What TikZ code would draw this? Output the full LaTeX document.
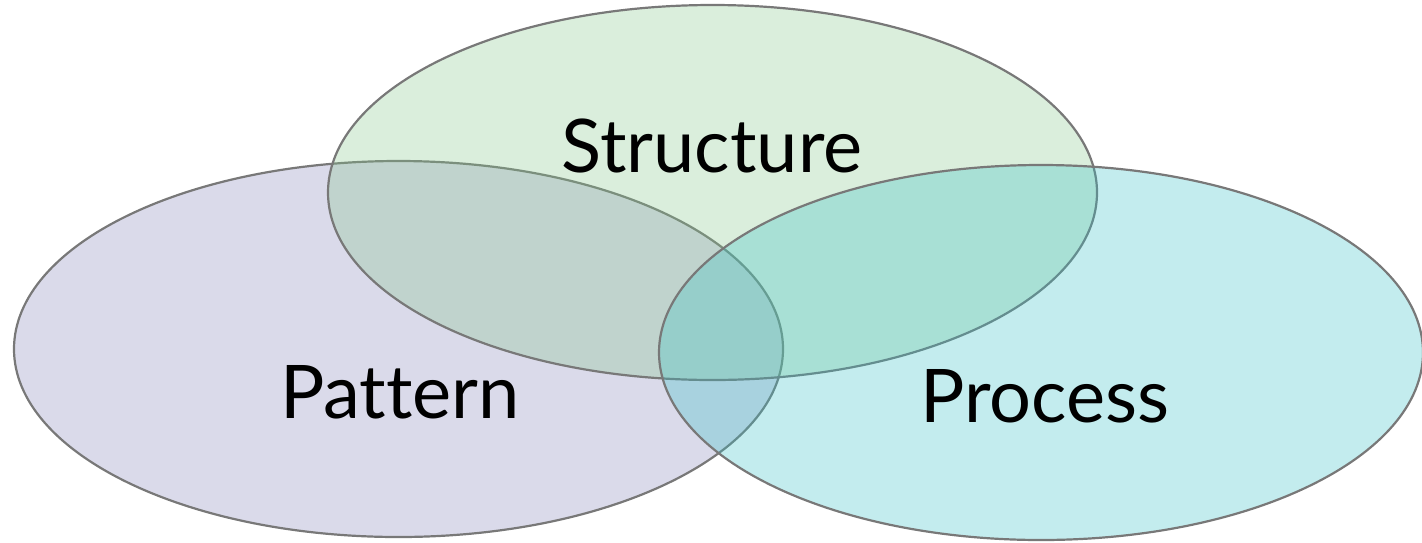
\documentclass[tikz,border=0pt]{standalone}
\usepackage{fontspec}
\setmainfont{Lato}[Ligatures={NoCommon}]
\definecolor{cpat}{RGB}{132,132,185}
\definecolor{cstr}{RGB}{132,198,138}
\definecolor{cpro}{RGB}{55,192,198}
\definecolor{edge}{RGB}{120,120,120}
\begin{document}
\begin{tikzpicture}[x=0.5pt,y=-0.5pt,
  setel/.style={draw=edge,line width=1.1pt,fill opacity=0.3},
  lbl/.style={font=\fontsize{37}{40}\selectfont,text=black,anchor=base,inner sep=0pt}]
\useasboundingbox (0,0) rectangle (1422,542);
\path[setel,fill=cpat] (398.5,349) ellipse [x radius=384.5,y radius=188];
\path[setel,fill=cstr] (712.5,192.5) ellipse [x radius=384.5,y radius=187.5];
\path[setel,fill=cpro] (1041,352.5) ellipse [x radius=382,y radius=187.5];
\node[lbl] (s) at (712,172) {Structure};
\node[lbl] (p) at (400,418) {Pattern};
\node[lbl] (r) at (1045,422) {Process};
\end{tikzpicture}
\end{document}
